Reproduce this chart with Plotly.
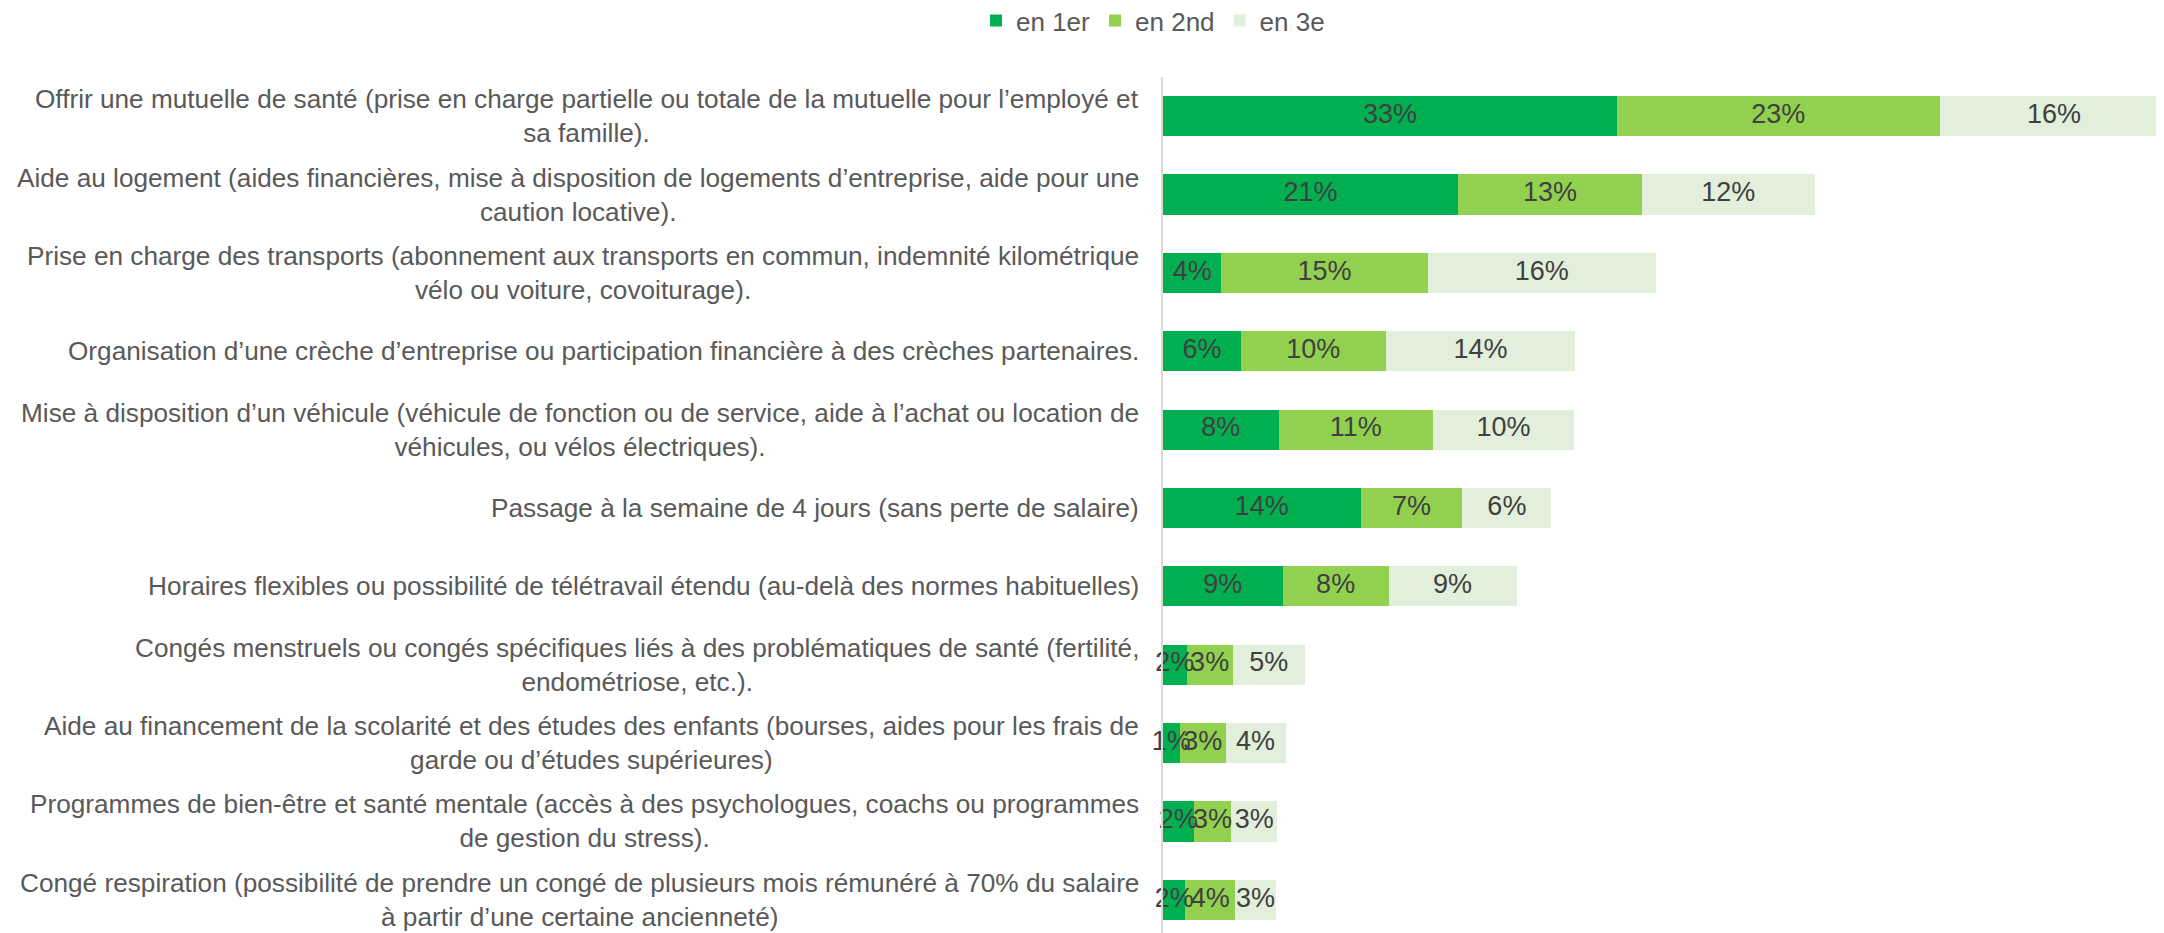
import plotly.graph_objects as go

categories = [
    "Offrir une mutuelle de santé (prise en charge partielle ou totale de la mutuelle pour l’employé et<br>sa famille).",
    "Aide au logement (aides financières, mise à disposition de logements d’entreprise, aide pour une<br>caution locative).",
    "Prise en charge des transports (abonnement aux transports en commun, indemnité kilométrique<br>vélo ou voiture, covoiturage).",
    "Organisation d’une crèche d’entreprise ou participation financière à des crèches partenaires.",
    "Mise à disposition d’un véhicule (véhicule de fonction ou de service, aide à l’achat ou location de<br>véhicules, ou vélos électriques).",
    "Passage à la semaine de 4 jours (sans perte de salaire)",
    "Horaires flexibles ou possibilité de télétravail étendu (au-delà des normes habituelles)",
    "Congés menstruels ou congés spécifiques liés à des problématiques de santé (fertilité,<br>endométriose, etc.).",
    "Aide au financement de la scolarité et des études des enfants (bourses, aides pour les frais de<br>garde ou d’études supérieures)",
    "Programmes de bien-être et santé mentale (accès à des psychologues, coachs ou programmes<br>de gestion du stress).",
    "Congé respiration (possibilité de prendre un congé de plusieurs mois rémunéré à 70% du salaire<br>à partir d’une certaine ancienneté)",
]
series_names = ["en 1er", "en 2nd", "en 3e"]
en_1er = [0.326, 0.212, 0.042, 0.056, 0.083, 0.142, 0.086, 0.017, 0.012, 0.022, 0.016]
en_2nd = [0.232, 0.132, 0.148, 0.104, 0.111, 0.073, 0.076, 0.033, 0.033, 0.027, 0.036]
en_3e = [0.164, 0.124, 0.164, 0.136, 0.101, 0.064, 0.092, 0.052, 0.043, 0.033, 0.029]
colors = ["#00B050", "#92D050", "#E2EFDA"]

ids = [f"c{i}" for i in range(len(categories))]
series = [en_1er, en_2nd, en_3e]

fig = go.Figure()
for name, vals, col in zip(series_names, series, colors):
    fig.add_trace(go.Bar(
        y=ids, x=vals, name=name, orientation="h",
        marker=dict(color=col, line=dict(width=0)),
        hoverinfo="skip",
    ))

# data labels centred on each segment
base = [0.0] * len(ids)
for vals in series:
    mids = [b + v / 2 for b, v in zip(base, vals)]
    fig.add_trace(go.Scatter(
        x=mids, y=ids, mode="text",
        text=[f"{round(v * 100)}%" for v in vals],
        textposition="middle center",
        textfont=dict(family="Liberation Sans", size=27, color="#404040"),
        showlegend=False, hoverinfo="skip", cliponaxis=False,
    ))
    base = [b + v for b, v in zip(base, vals)]

for cid, label in zip(ids, categories):
    fig.add_annotation(
        x=0, xref="paper", y=cid, yref="y", text=label, showarrow=False,
        xanchor="right", yanchor="middle", align="center", xshift=-22,
        font=dict(family="Liberation Sans", size=26.2, color="#595959"),
    )

fig.update_layout(
    width=2156, height=931,
    barmode="stack", bargap=0.487,
    plot_bgcolor="white", paper_bgcolor="white",
    margin=dict(l=1155, r=0, t=69, b=0, autoexpand=False),
    showlegend=True,
    legend=dict(
        orientation="h", x=-0.010, xanchor="center", y=1.0653, yanchor="middle",
        font=dict(family="Liberation Sans", size=26, color="#595959"),
        itemwidth=30, traceorder="normal",
    ),
    xaxis=dict(range=[0, 0.719], showticklabels=False, showgrid=False,
               zeroline=False, showline=False, fixedrange=True),
    yaxis=dict(type="category", categoryorder="array", categoryarray=ids,
               range=[len(ids) - 0.5, -0.5], autorange=False,
               showticklabels=False, showgrid=False, zeroline=False,
               showline=True, linecolor="#D9D9D9", linewidth=2),
)

fig.write_html("out.html")
